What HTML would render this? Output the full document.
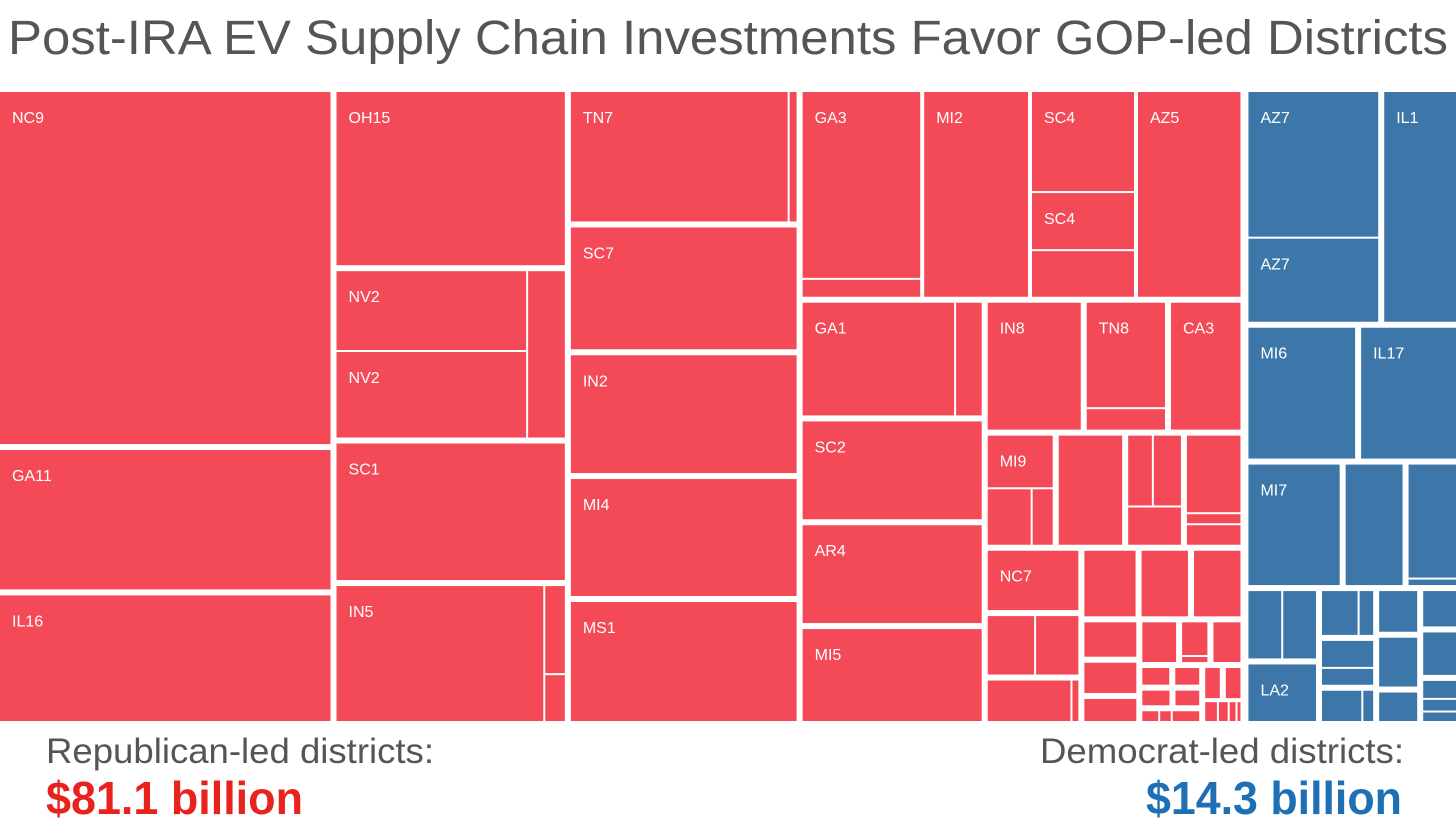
<!DOCTYPE html>
<html><head><meta charset="utf-8">
<style>
html,body{margin:0;padding:0;background:#fff;}
svg{display:block;font-family:"Liberation Sans",sans-serif;}
</style></head>
<body>
<svg id="chart" width="1456" height="837" viewBox="0 0 1456 837" xmlns="http://www.w3.org/2000/svg">
<text x="8" y="54" font-size="48" fill="#555" textLength="1440" lengthAdjust="spacingAndGlyphs">Post-IRA EV Supply Chain Investments Favor GOP-led Districts</text>
<g id="cells"></g>
<text x="46" y="763" font-size="35" fill="#555" textLength="388" lengthAdjust="spacingAndGlyphs">Republican-led districts:</text>
<text x="46" y="814" font-size="46" font-weight="bold" fill="#e8231e" textLength="257" lengthAdjust="spacingAndGlyphs">$81.1 billion</text>
<text x="1404" y="763" font-size="35" fill="#555" text-anchor="end" textLength="364" lengthAdjust="spacingAndGlyphs">Democrat-led districts:</text>
<text x="1402" y="814" font-size="46" font-weight="bold" fill="#1f6fb5" text-anchor="end" textLength="256" lengthAdjust="spacingAndGlyphs">$14.3 billion</text>
</svg>
<script>
// Data: investment values ($B) per district, nested as a treemap hierarchy
function L(v, l){ return {v:v, l:l||''}; }
function H(g){ return {d:'h', g:g, c:[].slice.call(arguments,1)}; }
function V(g){ return {d:'v', g:g, c:[].slice.call(arguments,1)}; }

const partyNames = ['Republican', 'Democrat'];
const partyColors = ['#f44a57', '#3d77a9'];

const col1 = V(6, L(12.53,'NC9'), L(4.96,'GA11'), L(4.47,'IL16'));
const col2 = V(6, L(4.30,'OH15'), H(2, V(2, L(1.66,'NV2'), L(1.80,'NV2')), L(0.67)), L(3.39,'SC1'), H(2, L(3.06,'IN5'), V(2, L(0.19), L(0.10))));
const col3 = V(6, H(2, L(3.11,'TN7'), L(0.10)), L(3.02,'SC7'), L(2.92,'IN2'), L(2.90,'MI4'), L(2.95,'MS1'));
const col4Top = H(4, V(2, L(2.42,'GA3'), L(0.22)), L(2.33,'MI2'), V(2, L(1.13,'SC4'), L(0.64,'SC4'), L(0.52)), L(2.30,'AZ5'));
const rowR1 = H(6, L(1.38,'IN8'), V(2, L(0.97,'TN8'), L(0.19)), L(1.03,'CA3'));
const rowA = H(6, V(2, L(0.41,'MI9'), H(2, L(0.30), L(0.14))), L(0.83), V(2, H(2, L(0.21), L(0.24)), L(0.24)), V(2, L(0.51), L(0.06), L(0.13)));
const rowB = H(6,
  V(6, L(0.66,'NC7'), H(2, L(0.34), L(0.31)), H(2, L(0.42), L(0.03))),
  V(6, H(6, L(0.43), L(0.39), L(0.39)),
       H(6, V(6, L(0.25), L(0.22), L(0.16)),
            V(6, H(6, L(0.20), V(2, L(0.13), L(0.02)), L(0.16)),
                 H(6, V(6, H(6, L(0.09), L(0.08)), H(6, L(0.08), L(0.07)), H(2, L(0.03), L(0.02), L(0.05))),
                      V(4, H(6, L(0.08), L(0.08)), H(2, L(0.04), L(0.03), L(0.02), L(0.01))))))));
const col4Bottom = H(6, V(6, H(2, L(1.95,'GA1'), L(0.33)), L(1.98,'SC2'), L(1.98,'AR4'), L(1.86,'MI5')), V(6, rowR1, rowA, rowB));
const republican = H(6, col1, col2, col3, V(6, col4Top, col4Bottom));

const democrat = V(6,
  H(6, V(2, L(2.09,'AZ7'), L(1.20,'AZ7')), L(1.82,'IL1')),
  H(6, L(1.54,'MI6'), L(1.37,'IL17')),
  H(6, L(1.25,'MI7'), L(0.78), V(2, L(0.62), L(0.03))),
  H(6, V(6, H(2, L(0.28), L(0.28)), L(0.47,'LA2')),
       V(6, H(2, L(0.21), L(0.08)), V(2, L(0.18), L(0.11)), H(2, L(0.16), L(0.04))),
       V(6, L(0.20), L(0.24), L(0.14)),
       V(6, L(0.15), L(0.18), V(2, L(0.08), L(0.05), L(0.04)))));

const parties = [republican, democrat];

// Layout
const NS = 'http://www.w3.org/2000/svg';
const area = {x:0, y:92, w:1456, h:629, gap:8};
function total(n){ return n.c ? n.c.reduce((s,c)=>s+total(c),0) : n.v; }
const gEl = document.getElementById('cells');

function draw(n, x, y, w, h, color, party){
  if (!n.c){
    const r = document.createElementNS(NS,'rect');
    r.setAttribute('x', x); r.setAttribute('y', y);
    r.setAttribute('width', Math.max(0,w)); r.setAttribute('height', Math.max(0,h));
    r.setAttribute('fill', color);
    
    
    gEl.appendChild(r);
    if (n.l){
      const t = document.createElementNS(NS,'text');
      t.setAttribute('x', x+12); t.setAttribute('y', y+31);
      t.setAttribute('font-size','16'); t.setAttribute('fill','#fff');
      t.textContent = n.l;
      
      
      gEl.appendChild(t);
    }
    return;
  }
  const tot = total(n);
  const len = (n.d==='h' ? w : h) - n.g*(n.c.length-1);
  let pos = n.d==='h' ? x : y;
  n.c.forEach(c=>{
    const s = len * total(c)/tot;
    if (n.d==='h') draw(c, pos, y, s, h, color, party);
    else draw(c, x, pos, w, s, color, party);
    pos += s + n.g;
  });
}

const grand = parties.reduce((s,p)=>s+total(p),0);
const avail = area.w - area.gap;
let px = area.x;
parties.forEach((p,i)=>{
  const w = avail * total(p)/grand;
  draw(p, px, area.y, w, area.h, partyColors[i], partyNames[i]);
  px += w + area.gap;
});
</script>
</body></html>
